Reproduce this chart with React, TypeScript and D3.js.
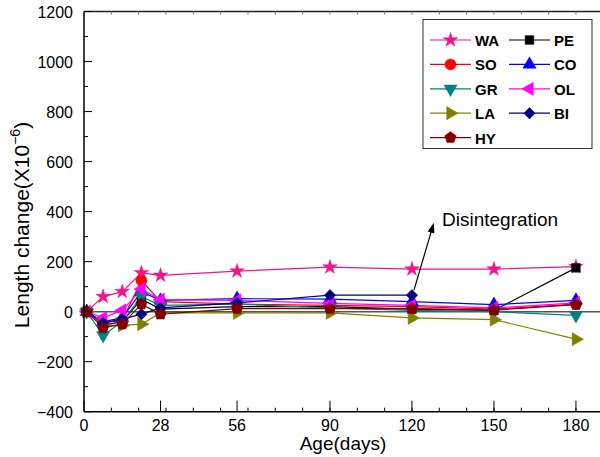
import React from "react";
import * as d3 from "d3";

const days = [1, 7, 14, 21, 28, 56, 90, 120, 150, 180];
const seriesNames = ["WA", "PE", "SO", "CO", "GR", "OL", "LA", "BI", "HY"];
const WA = [0, 60, 80, 155, 145, 162, 178, 170, 170, 180];
const PE = [0, -55, -40, 50, 10, 20, 20, 10, 5, 175];
const SO = [0, -45, -35, 125, 40, 30, 25, 20, 10, 30];
const CO = [0, -40, -25, 80, 45, 52, 50, 40, 28, 45];
const GR = [0, -95, -40, 60, 25, 30, 15, 5, 0, -15];
const OL = [0, -25, 5, 90, 48, 45, 33, 25, 15, 35];
const LA = [0, -55, -55, -50, -5, -5, -5, -25, -32, -110];
const BI = [0, -45, -30, -10, 15, 35, 66, 66];
const HY = [0, -65, -50, 30, -10, 12, 12, 12, 6, 28];
const seriesValues = [WA, PE, SO, CO, GR, OL, LA, BI, HY];
const colors = ["#F0148A", "#000000", "#FF0000", "#0000FF", "#008080", "#FF00FF", "#808000", "#000080", "#800000"];
const shapes = ["star", "square", "circle", "up", "down", "left", "right", "diamond", "pentagon"];

const xMajor = [0, 28, 56, 90, 120, 150, 180];
const yMajor = [-400, -200, 0, 200, 400, 600, 800, 1000, 1200];
const annotation = "Disintegration";

const W = 600, H = 457;
const x = d3.scaleLinear().domain([0, 190]).range([84, 84 + 190 * 2.733]);
const y = d3.scaleLinear().domain([-400, 1200]).range([411.7, 11.5]);
const FONT = "'Liberation Sans', Arial, sans-serif";

const pentagon = {
  draw(ctx: any, size: number) {
    const r = Math.sqrt(size / 2.378);
    for (let i = 0; i < 5; i++) {
      const a = -Math.PI / 2 + (i * 2 * Math.PI) / 5;
      const px = r * Math.cos(a), py = r * Math.sin(a);
      if (i === 0) ctx.moveTo(px, py); else ctx.lineTo(px, py);
    }
    ctx.closePath();
  },
};

function markerPath(shape: string): { d: string; rot: number } {
  switch (shape) {
    case "star": return { d: d3.symbol(d3.symbolStar, 65)()!, rot: 0 };
    case "square": return { d: d3.symbol(d3.symbolSquare, 75)()!, rot: 0 };
    case "circle": return { d: d3.symbol(d3.symbolCircle, 95)()!, rot: 0 };
    case "up": return { d: d3.symbol(d3.symbolTriangle, 75)()!, rot: 0 };
    case "down": return { d: d3.symbol(d3.symbolTriangle, 75)()!, rot: 180 };
    case "left": return { d: d3.symbol(d3.symbolTriangle, 75)()!, rot: -90 };
    case "right": return { d: d3.symbol(d3.symbolTriangle, 75)()!, rot: 90 };
    case "diamond": return { d: d3.symbol(d3.symbolSquare, 65)()!, rot: 45 };
    default: return { d: d3.symbol(pentagon as any, 85)()!, rot: 0 };
  }
}

function Marker({ shape, color, cx, cy }: { shape: string; color: string; cx: number; cy: number }) {
  const m = markerPath(shape);
  return <path d={m.d} transform={`translate(${cx},${cy}) rotate(${m.rot})`} fill={color} stroke={color} strokeWidth={0.5} />;
}

export default function App() {
  const line = d3.line<number>().x((_, i) => x(days[i])).y((v) => y(v));
  const x0 = x(0), xr = W, yb = y(-400), yt = y(1200);
  const minorX = d3.range(10, 191, 10);
  const minorY = d3.range(-300, 1200, 200);
  const arrowFrom = [x(120) + 2, y(66) - 5];
  const arrowTo = [x(128), y(355)];
  const ang = Math.atan2(arrowTo[1] - arrowFrom[1], arrowTo[0] - arrowFrom[0]);
  const ah = 10, aw = 3.5;
  const headPts = [
    [arrowTo[0], arrowTo[1]],
    [arrowTo[0] - ah * Math.cos(ang) + aw * Math.sin(ang), arrowTo[1] - ah * Math.sin(ang) - aw * Math.cos(ang)],
    [arrowTo[0] - ah * Math.cos(ang) - aw * Math.sin(ang), arrowTo[1] - ah * Math.sin(ang) + aw * Math.cos(ang)],
  ];
  return (
    <svg width={W} height={H} style={{ position: "absolute", left: 0, top: 0, background: "#fff" }} fontFamily={FONT}>
      <rect x={0} y={0} width={W} height={H} fill="#fff" />
      <line x1={x0} x2={xr} y1={y(0)} y2={y(0)} stroke="#555" strokeWidth={1.5} />
      {seriesValues.map((vals, si) => (
        <path key={"l" + si} d={line(vals)!} fill="none" stroke={colors[si]} strokeWidth={1.2} />
      ))}
      {seriesValues.map((vals, si) => (
        <g key={"m" + si}>
          {vals.map((v, i) => (
            <Marker key={i} shape={shapes[si]} color={colors[si]} cx={x(days[i])} cy={y(v)} />
          ))}
        </g>
      ))}
      <line x1={x0} x2={x0} y1={yt} y2={yb} stroke="#000" strokeWidth={1.5} />
      <line x1={x0} x2={xr} y1={yb} y2={yb} stroke="#000" strokeWidth={1.5} />
      <line x1={x0} x2={xr} y1={yt} y2={yt} stroke="#222" strokeWidth={1.5} />
      {xMajor.map((t) => (
        <g key={"xt" + t}>
          <line x1={x(t)} x2={x(t)} y1={yb} y2={yb - 11} stroke="#000" strokeWidth={1} />
          <text x={x(t)} y={431} fontSize={16} textAnchor="middle">{t}</text>
        </g>
      ))}
      {minorX.map((t) => (
        <g key={"xm" + t}>
          <line x1={x(t)} x2={x(t)} y1={yb} y2={yb - 4} stroke="#000" strokeWidth={1} />
          <line x1={x(t)} x2={x(t)} y1={yt} y2={yt + 3} stroke="#777" strokeWidth={1} />
        </g>
      ))}
      {yMajor.map((t) => (
        <g key={"yt" + t}>
          <line x1={x0} x2={x0 + 8} y1={y(t)} y2={y(t)} stroke="#000" strokeWidth={1} />
          <text x={73} y={y(t) + 6} fontSize={16} textAnchor="end">{t < 0 ? "\u2212" + Math.abs(t) : t}</text>
        </g>
      ))}
      {minorY.map((t) => (
        <line key={"ym" + t} x1={x0} x2={x0 + 4} y1={y(t)} y2={y(t)} stroke="#000" strokeWidth={1} />
      ))}
      <text x={343} y={450} fontSize={19} textAnchor="middle">Age(days)</text>
      <text transform={`translate(29,225) rotate(-90)`} fontSize={21} textAnchor="middle">
        Length change(X10<tspan dy={-9} fontSize={14}>{"\u22126"}</tspan><tspan dy={9}>)</tspan>
      </text>
      <line x1={arrowFrom[0]} y1={arrowFrom[1]} x2={headPts[0][0] - 6 * Math.cos(ang)} y2={headPts[0][1] - 6 * Math.sin(ang)} stroke="#000" strokeWidth={1.2} />
      <polygon points={headPts.map((p) => p.join(",")).join(" ")} fill="#000" />
      <text x={442} y={226} fontSize={19}>{annotation}</text>
      <rect x={423} y={19.5} width={169} height={129} fill="#fff" stroke="#333" strokeWidth={1} />
      {seriesNames.map((name, i) => {
        const col = i % 2, row = Math.floor(i / 2);
        const ly = 40 + row * 24.4;
        const lx = col === 0 ? 430 : 509;
        return (
          <g key={"lg" + i}>
            <line x1={lx} x2={lx + 41} y1={ly} y2={ly} stroke={colors[i]} strokeWidth={1.2} />
            <Marker shape={shapes[i]} color={colors[i]} cx={lx + 20.5} cy={ly} />
            <text x={lx + 45} y={ly + 6} fontSize={15} fontWeight={600}>{name}</text>
          </g>
        );
      })}
    </svg>
  );
}
